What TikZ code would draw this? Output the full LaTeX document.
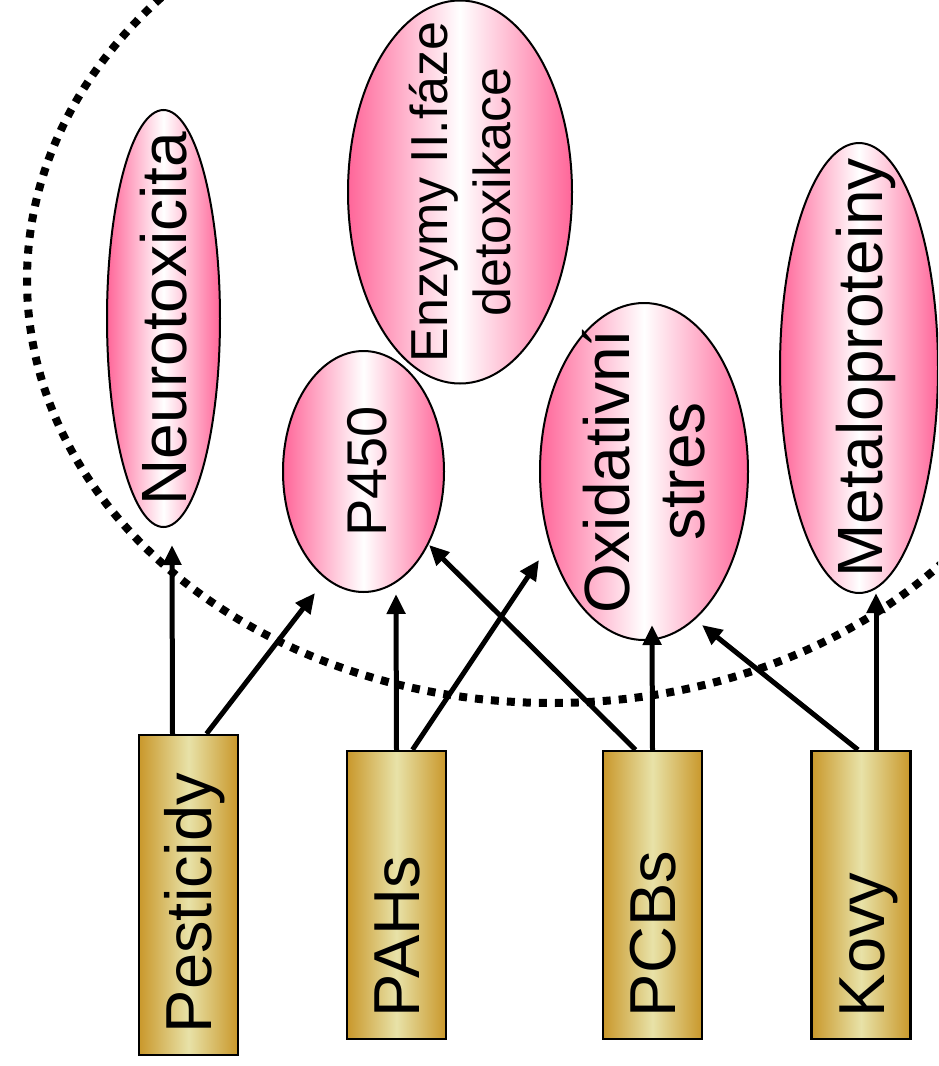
\documentclass[tikz,border=0pt]{standalone}
\usepackage{fontspec}
\setmainfont{Liberation Sans}
\usetikzlibrary{arrows.meta,calc,shapes.geometric}
\definecolor{gold}{RGB}{201,152,43}
\definecolor{pale}{RGB}{232,226,168}
\definecolor{hotpink}{RGB}{255,102,153}
\newcommand\zw[1]{\makebox[0pt]{#1}}
\begin{document}
\begin{tikzpicture}[x=0.5pt,y=-0.5pt,
  src/.style={draw,line width=1.2pt,rotate=90,left color=gold,right color=gold,middle color=pale,
    minimum height=49.5pt,inner xsep=11pt,align=left,text height=23pt,text depth=0pt,
    font=\fontsize{32.5}{38}\selectfont},
  eff/.style={ellipse,draw,line width=1pt,rotate=90,left color=hotpink,right color=hotpink,
    middle color=white,inner sep=0pt,align=center,font=\fontsize{32}{37.5}\selectfont},
  oneline/.style={text height=23pt,text depth=0pt},
  arr/.style={-{Triangle[length=10pt,width=9pt]},line width=2.5pt},
  dotline/.style={line width=4pt,dash pattern=on 4pt off 4pt}]
\useasboundingbox (0,0) rectangle (938,1066);
\clip (0,0) rectangle (938,1066);
\draw[dotline] (552,280) ellipse [x radius=525,y radius=423];
% zdroje
\node[src,minimum width=160pt,text width=138pt] (pest) at (188.5,895) {Pesticidy};
\node[src,minimum width=144pt,text width=122pt] (pah) at (396.5,895) {PAHs};
\node[src,minimum width=144pt,text width=122pt] (pcb) at (652.5,895) {PCBs};
\node[src,minimum width=144pt,text width=122pt] (kovy) at (861,895) {Kovy};
% ucinky
\node[eff,oneline,minimum width=208.5pt,minimum height=56.5pt] (neuro) at (163.5,318.5) {\zw{Neurotoxicita}};
\node[eff,minimum width=191.5pt,minimum height=112pt,font=\fontsize{26}{31.5}\selectfont] (enz) at (460,192)
  {\zw{Enzymy II.fáze}\\\zw{detoxikace}};
\node[eff,oneline,minimum width=120.5pt,minimum height=80.5pt,font=\fontsize{28}{34}\selectfont] (p450) at (363.5,471.5) {\zw{P450}};
\node[eff,minimum width=168.5pt,minimum height=104pt] (oxid) at (644,471.5) {\zw{Oxidativní}\\\zw{stres}};
\node[eff,oneline,minimum width=225pt,minimum height=79pt] (metal) at (859,368) {\zw{Metaloproteiny}};
% sipky
\draw[arr] ($(pest.east)+(-16,0)$) -- ($(neuro)+(8.5,226.5)$);
\draw[arr] ($(pest.east)+(18,0)$) -- ($(p450)+(-48.5,121.5)$);
\draw[arr] (pah.east) -- ($(p450)+(32.5,122.5)$);
\draw[arr] ($(pah.east)+(16,0)$) -- ($(oxid)+(-105,88.5)$);
\draw[arr] ($(pcb.east)+(-17,0)$) -- ($(p450)+(65.5,73.5)$);
\draw[arr] (pcb.east) -- ($(oxid)+(8,153.5)$);
\draw[arr] ($(kovy.east)+(-3,0)$) -- ($(oxid)+(58,153.5)$);
\draw[arr] ($(kovy.east)+(15,0)$) -- ($(metal)+(17,225)$);
\end{tikzpicture}
\end{document}
